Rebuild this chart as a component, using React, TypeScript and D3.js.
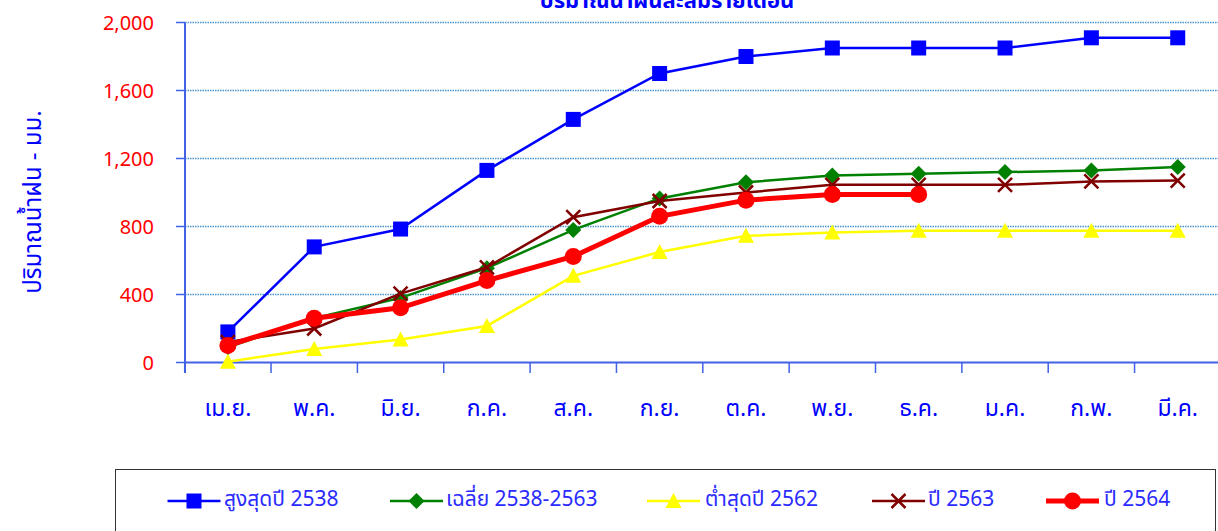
import * as d3 from 'd3';

const months = ['เม.ย.', 'พ.ค.', 'มิ.ย.', 'ก.ค.', 'ส.ค.', 'ก.ย.', 'ต.ค.', 'พ.ย.', 'ธ.ค.', 'ม.ค.', 'ก.พ.', 'มี.ค.'];
const yTicks = [0, 400, 800, 1200, 1600, 2000];

const maxRain = [180, 680, 785, 1130, 1430, 1700, 1800, 1850, 1850, 1850, 1910, 1910];
const avgRain = [90, 260, 380, 555, 780, 965, 1060, 1100, 1110, 1120, 1130, 1150];
const minRain = [5, 80, 135, 215, 510, 650, 745, 765, 775, 775, 775, 775];
const rain2563 = [120, 200, 405, 560, 855, 950, 1000, 1045, 1045, 1045, 1065, 1070];
const rain2564 = [100, 260, 322, 482, 624, 860, 955, 988, 988];

const seriesNames = ['สูงสุดปี 2538', 'เฉลี่ย 2538-2563', 'ต่ำสุดปี 2562', 'ปี 2563', 'ปี 2564'];

type Marker = 'square' | 'diamond' | 'triangle' | 'cross' | 'circle';

const series: { name: string; values: number[]; color: string; width: number; marker: Marker }[] = [
  { name: seriesNames[0], values: maxRain, color: '#0000ff', width: 2.5, marker: 'square' },
  { name: seriesNames[1], values: avgRain, color: '#008000', width: 2.5, marker: 'diamond' },
  { name: seriesNames[2], values: minRain, color: '#ffff00', width: 2.5, marker: 'triangle' },
  { name: seriesNames[3], values: rain2563, color: '#800000', width: 2.5, marker: 'cross' },
  { name: seriesNames[4], values: rain2564, color: '#ff0000', width: 5, marker: 'circle' },
];

const W = 1218;
const H = 531;
const FONT = "Tahoma, 'Noto Sans Thai', 'Noto Sans', sans-serif";

function MarkerShape({ type, x, y, color }: { type: Marker; x: number; y: number; color: string }) {
  switch (type) {
    case 'square':
      return <rect x={x - 7.5} y={y - 7.5} width={15} height={15} fill={color} />;
    case 'diamond':
      return <path d={`M${x},${y - 8}L${x + 8},${y}L${x},${y + 8}L${x - 8},${y}Z`} fill={color} />;
    case 'triangle':
      return <path d={`M${x},${y - 8}L${x + 8},${y + 7}L${x - 8},${y + 7}Z`} fill={color} />;
    case 'cross':
      return (
        <path
          d={`M${x - 7},${y - 7}L${x + 7},${y + 7}M${x + 7},${y - 7}L${x - 7},${y + 7}`}
          stroke={color}
          strokeWidth={2.5}
        />
      );
    default:
      return <circle cx={x} cy={y} r={8.5} fill={color} />;
  }
}

export default function App() {
  const x = d3.scaleBand<string>().domain(months).range([184.7, 1220.9]).padding(0);
  const y = d3.scaleLinear().domain([0, 2000]).range([362.5, 22.5]);
  const cx = (m: string) => (x(m) ?? 0) + x.bandwidth() / 2;

  const line = d3
    .line<number>()
    .x((_, i) => cx(months[i]))
    .y(d => y(d));

  const fmt = d3.format(',');
  const axisColor = '#4262e6';

  const legendItems = [
    { lineX: 167.5, textX: 224 },
    { lineX: 390, textX: 446 },
    { lineX: 647, textX: 705 },
    { lineX: 872, textX: 928 },
    { lineX: 1046, textX: 1104 },
  ];

  return (
    <svg
      width={W}
      height={H}
      style={{ position: 'absolute', left: 0, top: 0, background: '#fff' }}
      fontFamily={FONT}
    >
      {/* title, cut off at top */}
      <text x={667} y={8} textAnchor="middle" fontSize={22} fontWeight="bold" fill="#0000ff">
        ปริมาณน้ำฝนสะสมรายเดือน
      </text>

      {/* grid */}
      {yTicks.slice(1).map(t => (
        <line
          key={t}
          x1={185}
          x2={W}
          y1={y(t)}
          y2={y(t)}
          stroke="#4a95cf"
          strokeWidth={1.5}
          strokeDasharray="1.5,1"
        />
      ))}

      {/* y axis */}
      <line x1={185} x2={185} y1={y(2000)} y2={373} stroke={axisColor} strokeWidth={2} />
      {yTicks.map(t => (
        <g key={t}>
          <line x1={176} x2={185} y1={y(t)} y2={y(t)} stroke={axisColor} strokeWidth={1.5} />
          <text x={154} y={y(t)} dy="0.35em" textAnchor="end" fontSize={20} fill="#ff0000">
            {fmt(t)}
          </text>
        </g>
      ))}
      <text
        transform="translate(41,202) rotate(-90)"
        textAnchor="middle"
        fontSize={24}
        fill="#0000ff"
      >
        ปริมาณน้ำฝน - มม.
      </text>

      {/* x axis */}
      <line x1={185} x2={W} y1={y(0)} y2={y(0)} stroke={axisColor} strokeWidth={2} />
      {months.map(m => (
        <g key={m}>
          <line x1={x(m)} x2={x(m)} y1={y(0)} y2={373} stroke={axisColor} strokeWidth={1.5} />
          <text x={cx(m)} y={416} textAnchor="middle" fontSize={23} fill="#0000ff">
            {m}
          </text>
        </g>
      ))}

      {/* series */}
      {series.map(s => (
        <g key={s.name}>
          <path d={line(s.values) ?? ''} fill="none" stroke={s.color} strokeWidth={s.width} />
          {s.values.map((v, i) => (
            <MarkerShape key={i} type={s.marker} x={cx(months[i])} y={y(v)} color={s.color} />
          ))}
        </g>
      ))}

      {/* legend */}
      <rect x={115.5} y={469.5} width={1100} height={80} fill="none" stroke="#333" strokeWidth={1} />
      {series.map((s, i) => {
        const it = legendItems[i];
        const ly = 501;
        return (
          <g key={s.name}>
            <line x1={it.lineX} x2={it.lineX + 53} y1={ly} y2={ly} stroke={s.color} strokeWidth={s.width} />
            <MarkerShape type={s.marker} x={it.lineX + 26.5} y={ly} color={s.color} />
            <text x={it.textX} y={506} fontSize={21} fill="#2b2bff">
              {s.name}
            </text>
          </g>
        );
      })}
    </svg>
  );
}
